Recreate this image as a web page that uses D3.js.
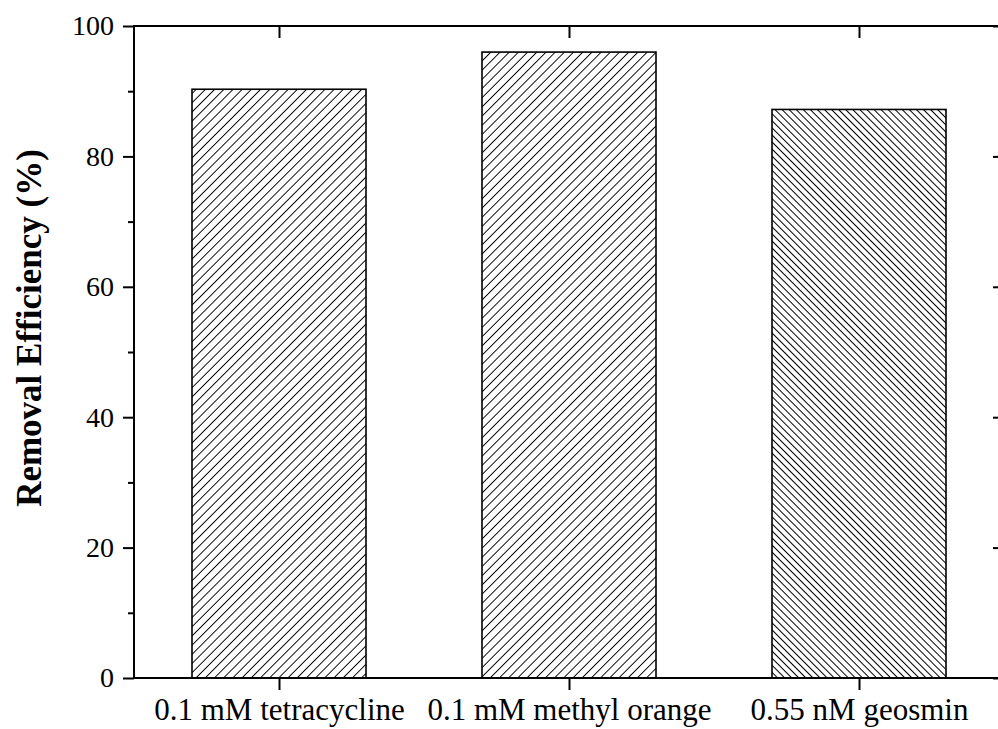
<!DOCTYPE html>
<html><head><meta charset="utf-8">
<script src="https://cdn.jsdelivr.net/npm/d3@7"></script>
<style>
html,body{margin:0;padding:0;background:#fff;}
svg{display:block;}
svg text{font-family:"Times New Roman","Liberation Serif",Times,serif !important;fill:#000;}
</style></head>
<body>
<svg id="chart" width="998" height="729"></svg>
<script>
const categories = ["0.1 mM tetracycline", "0.1 mM methyl orange", "0.55 nM geosmin"];
const values = [90.3, 96.0, 87.2];
const hatches = ["fwd", "fwd", "back"];
const yTicks = [0, 20, 40, 60, 80, 100];
const yMinorTicks = [10, 30, 50, 70, 90];

const svg = d3.select("#chart");
const pLeft = 134, pRight = 1004, pTop = 26, pBottom = 678;
const serif = '"Times New Roman","Liberation Serif",Times,serif';

const x = d3.scaleBand().domain(categories).range([pLeft, pRight]).paddingInner(0.4).paddingOuter(0.2);
const xc = d3.scalePoint().domain(categories).range([pLeft, pRight]).padding(0.5);
const y = d3.scaleLinear().domain([0, 100]).range([pBottom, pTop]);

const defs = svg.append("defs");
function hatch(id, w, angle, sw) {
  const p = defs.append("pattern").attr("id", id).attr("patternUnits", "userSpaceOnUse")
    .attr("width", w).attr("height", w).attr("patternTransform", `rotate(${angle})`);
  p.append("rect").attr("width", w).attr("height", w).attr("fill", "#fff");
  p.append("line").attr("x1", 0).attr("y1", -1).attr("x2", 0).attr("y2", w + 1)
    .attr("stroke", "#000").attr("stroke-width", sw).attr("shape-rendering", "crispEdges");
}
hatch("fwd", 6.5, 45, 1.2);
hatch("back", 5.0, -45, 1.5);

// bars
svg.append("g").selectAll("rect").data(categories).join("rect")
  .attr("x", d => x(d)).attr("width", x.bandwidth())
  .attr("y", (d, i) => y(values[i])).attr("height", (d, i) => y(0) - y(values[i]))
  .attr("fill", (d, i) => `url(#${hatches[i]})`)
  .attr("stroke", "#000").attr("stroke-width", 1.6);

// left axis
const gl = svg.append("g").attr("transform", `translate(${pLeft},0)`)
  .call(d3.axisLeft(y).tickValues(yTicks).tickSize(11).tickPadding(9).tickFormat(d3.format("d")));
gl.attr("font-family", serif);
gl.select(".domain").remove();
gl.selectAll(".tick line").attr("stroke-width", 2);
gl.selectAll("text").style("font-size", "28px").style("font-family", serif);
svg.append("g").attr("transform", `translate(${pLeft},0)`)
  .call(d3.axisLeft(y).tickValues(yMinorTicks).tickSize(6).tickFormat(""))
  .call(g => g.select(".domain").remove())
  .selectAll(".tick line").attr("stroke-width", 2);

// right axis (inward)
svg.append("g").attr("transform", `translate(${pRight},0)`)
  .call(d3.axisLeft(y).tickValues(yTicks).tickSize(11).tickFormat(""))
  .call(g => g.select(".domain").remove())
  .selectAll(".tick line").attr("stroke-width", 2);
svg.append("g").attr("transform", `translate(${pRight},0)`)
  .call(d3.axisLeft(y).tickValues(yMinorTicks).tickSize(6).tickFormat(""))
  .call(g => g.select(".domain").remove())
  .selectAll(".tick line").attr("stroke-width", 2);

// bottom axis
const gb = svg.append("g").attr("transform", `translate(0,${pBottom})`)
  .call(d3.axisBottom(xc).tickSize(12).tickPadding(8));
gb.attr("font-family", serif);
gb.select(".domain").remove();
gb.selectAll(".tick line").attr("stroke-width", 2);
gb.selectAll("text").style("font-size", "31px").style("font-family", serif);

// top axis (inward)
svg.append("g").attr("transform", `translate(0,${pTop})`)
  .call(d3.axisTop(xc).tickSize(-12).tickFormat(""))
  .call(g => g.select(".domain").remove())
  .selectAll(".tick line").attr("stroke-width", 2);

// frame
svg.append("rect").attr("x", pLeft).attr("y", pTop).attr("width", pRight - pLeft).attr("height", pBottom - pTop)
  .attr("fill", "none").attr("stroke", "#000").attr("stroke-width", 2);

// y title
svg.append("text").attr("transform", `translate(41,${(pTop + pBottom) / 2 - 24}) rotate(-90)`)
  .attr("text-anchor", "middle").style("font-size", "35px").style("font-weight", "bold")
  .style("font-family", serif)
  .text("Removal Efficiency (%)");
</script>
</body></html>
